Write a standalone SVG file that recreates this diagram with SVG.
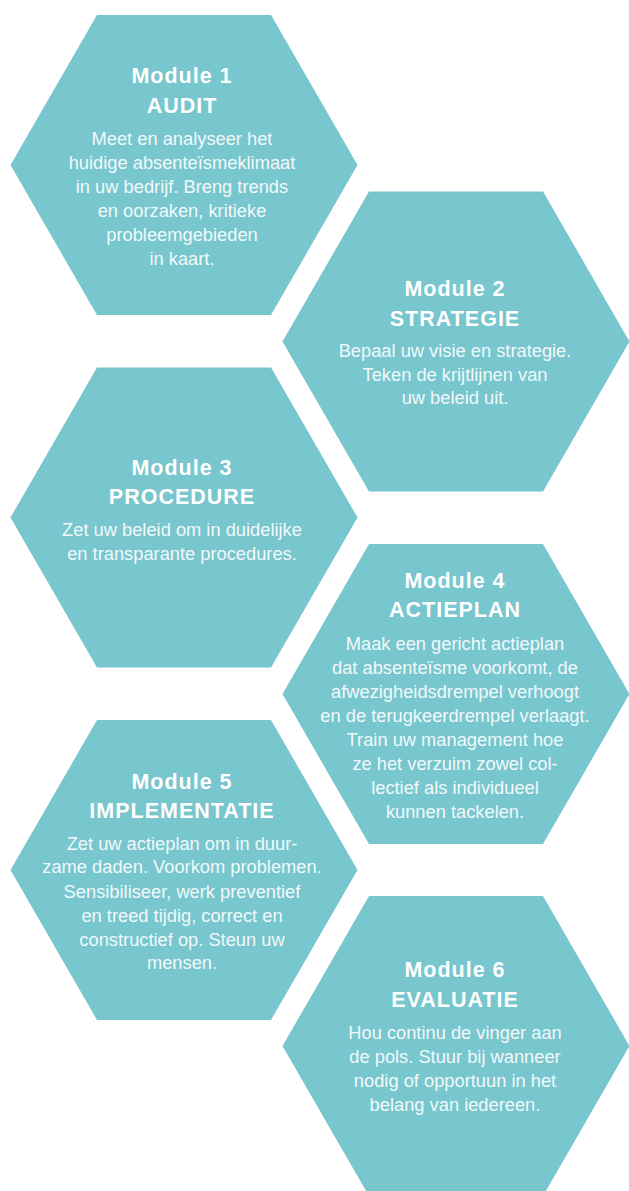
<svg xmlns="http://www.w3.org/2000/svg" xmlns:xlink="http://www.w3.org/1999/xlink" width="629" height="1191" viewBox="0 0 629 1191">
<style>
.hex{fill:#78c6ce}
.t{font-family:"Liberation Sans",Arial,sans-serif;font-weight:bold;font-size:21.5px;fill:#ffffff;text-anchor:middle;letter-spacing:1px}
.b{font-family:"Liberation Sans",Arial,sans-serif;font-size:18.3px;fill:#f1f9fa;text-anchor:middle}
</style>
<defs>
<polygon id="hexshape" points="-87,-150 87,-150 173.5,0 87,150 -87,150 -173.5,0"/>
</defs>
<rect width="629" height="1191" fill="#ffffff"/>
<g id="connectors"/>
<g id="module1">
<use xlink:href="#hexshape" href="#hexshape" class="hex" x="184" y="165"/>
<text class="t" x="182" y="83">Module 1</text>
<text class="t" x="182" y="112.7">AUDIT</text>
<text class="b" x="182" y="145">Meet en analyseer het</text>
<text class="b" x="182" y="169.3">huidige absenteïsmeklimaat</text>
<text class="b" x="182" y="193.3">in uw bedrijf. Breng trends</text>
<text class="b" x="182" y="216.7">en oorzaken, kritieke</text>
<text class="b" x="182" y="240.7">probleemgebieden</text>
<text class="b" x="182" y="265">in kaart.</text>
</g>
<g id="module2">
<use xlink:href="#hexshape" href="#hexshape" class="hex" x="456" y="341.5"/>
<text class="t" x="455" y="296">Module 2</text>
<text class="t" x="455" y="325.7">STRATEGIE</text>
<text class="b" x="455" y="356.7">Bepaal uw visie en strategie.</text>
<text class="b" x="455" y="380.7">Teken de krijtlijnen van</text>
<text class="b" x="455" y="404.3">uw beleid uit.</text>
</g>
<g id="module3">
<use xlink:href="#hexshape" href="#hexshape" class="hex" x="184" y="517.5"/>
<text class="t" x="182" y="475">Module 3</text>
<text class="t" x="182" y="504.3">PROCEDURE</text>
<text class="b" x="182" y="536">Zet uw beleid om in duidelijke</text>
<text class="b" x="182" y="560">en transparante procedures.</text>
</g>
<g id="module4">
<use xlink:href="#hexshape" href="#hexshape" class="hex" x="456" y="694"/>
<text class="t" x="455" y="588.3">Module 4</text>
<text class="t" x="455" y="617.3">ACTIEPLAN</text>
<text class="b" x="455" y="650">Maak een gericht actieplan</text>
<text class="b" x="455" y="674.3">dat absenteïsme voorkomt, de</text>
<text class="b" x="455" y="698.3">afwezigheidsdrempel verhoogt</text>
<text class="b" x="455" y="721.7">en de terugkeerdrempel verlaagt.</text>
<text class="b" x="455" y="745.7">Train uw management hoe</text>
<text class="b" x="455" y="770">ze het verzuim zowel col-</text>
<text class="b" x="455" y="794">lectief als individueel</text>
<text class="b" x="455" y="817.7">kunnen tackelen.</text>
</g>
<g id="module5">
<use xlink:href="#hexshape" href="#hexshape" class="hex" x="184" y="870"/>
<text class="t" x="182" y="789">Module 5</text>
<text class="t" x="182" y="818.3">IMPLEMENTATIE</text>
<text class="b" x="182" y="850">Zet uw actieplan om in duur-</text>
<text class="b" x="182" y="873.3">zame daden. Voorkom problemen.</text>
<text class="b" x="182" y="897.7">Sensibiliseer, werk preventief</text>
<text class="b" x="182" y="921.7">en treed tijdig, correct en</text>
<text class="b" x="182" y="945.7">constructief op. Steun uw</text>
<text class="b" x="182" y="969.3">mensen.</text>
</g>
<g id="module6">
<use xlink:href="#hexshape" href="#hexshape" class="hex" x="456" y="1046"/>
<text class="t" x="455" y="977.3">Module 6</text>
<text class="t" x="455" y="1006.7">EVALUATIE</text>
<text class="b" x="455" y="1039">Hou continu de vinger aan</text>
<text class="b" x="455" y="1063.3">de pols. Stuur bij wanneer</text>
<text class="b" x="455" y="1087.3">nodig of opportuun in het</text>
<text class="b" x="455" y="1111">belang van iedereen.</text>
</g>
</svg>
